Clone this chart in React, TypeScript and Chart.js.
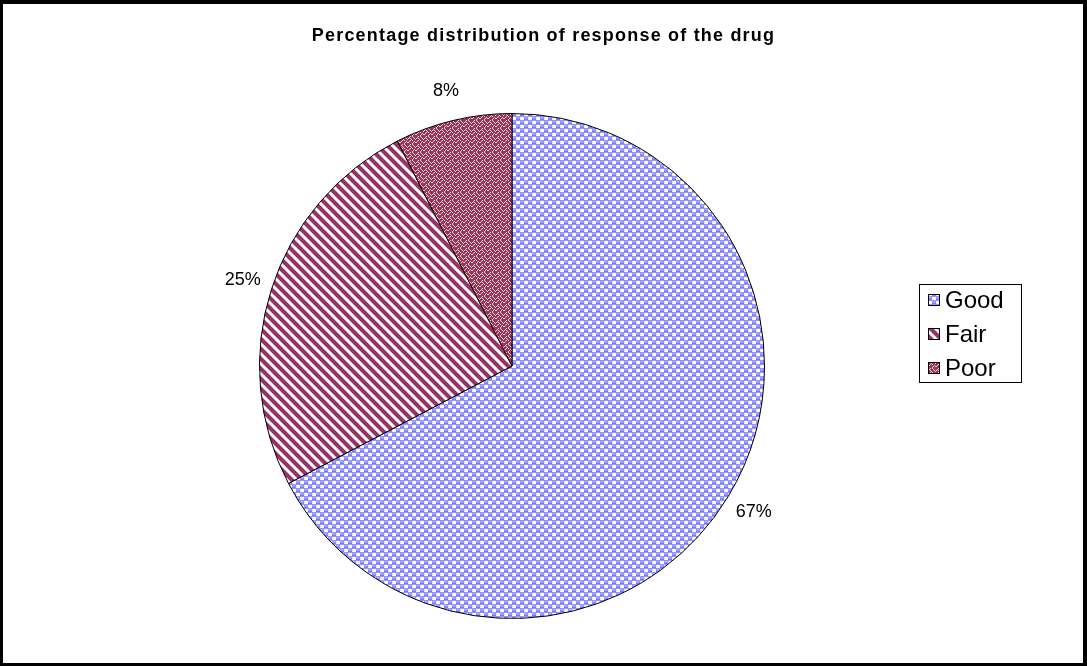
import React, { useEffect, useRef } from "react";
import { Chart, registerables } from "chart.js";

Chart.register(...registerables);

const categories = ["Good", "Fair", "Poor"];
const values = [67.3, 25.2, 7.5];
const titleText = "Percentage distribution of response of the drug";

function makeTile(size: number, draw: (ctx: CanvasRenderingContext2D) => void): CanvasPattern {
  const c = document.createElement("canvas");
  c.width = size;
  c.height = size;
  const ctx = c.getContext("2d")!;
  draw(ctx);
  return document.createElement("canvas").getContext("2d")!.createPattern(c, "repeat")!;
}

function goodPattern() {
  return makeTile(8, (ctx) => {
    ctx.fillStyle = "#9494ff";
    ctx.fillRect(0, 0, 8, 8);
    ctx.fillStyle = "#ffffff";
    ctx.fillRect(5, 1, 3, 3);
    ctx.fillRect(1, 5, 3, 3);
    ctx.fillStyle = "#e8e8ff";
    ctx.fillRect(4, 1, 1, 3);
    ctx.fillRect(0, 5, 1, 3);
    ctx.fillStyle = "#b4b4ff";
    ctx.fillRect(1, 1, 2, 1);
    ctx.fillRect(5, 5, 2, 1);
    ctx.fillStyle = "#7c7cf0";
    ctx.fillRect(0, 3, 4, 1);
    ctx.fillRect(4, 7, 4, 1);
  });
}

function fairPattern() {
  const n = 10;
  return makeTile(n, (ctx) => {
    ctx.fillStyle = "#ffffff";
    ctx.fillRect(0, 0, n, n);
    for (let y = 0; y < n; y++) {
      for (let x = 0; x < n; x++) {
        const d = (((x - y) % n) + n) % n;
        if (d < 5) {
          ctx.fillStyle = "#993366";
          ctx.fillRect(x, y, 1, 1);
        } else if (d === 5 || d === n - 1) {
          ctx.fillStyle = "#d7a9c0";
          ctx.fillRect(x, y, 1, 1);
        }
      }
    }
  });
}

function poorPattern() {
  const rows = [
    "MMLMLMMM",
    "MLMMMLMM",
    "LMLMMMLM",
    "MMMLMMML",
    "MMLMLMMM",
    "MLMMMMLM",
    "LMMMMLML",
    "MMMMLMMM",
  ];
  return makeTile(8, (ctx) => {
    for (let y = 0; y < 8; y++) {
      for (let x = 0; x < 8; x++) {
        ctx.fillStyle = rows[y][x] === "L" ? "#ecd4ac" : "#993366";
        ctx.fillRect(x, y, 1, 1);
      }
    }
  });
}

const labelPlugin = {
  id: "pctLabels",
  afterDatasetsDraw(chart: any) {
    const ctx = chart.ctx;
    const meta = chart.getDatasetMeta(0);
    const data = chart.data.datasets[0].data as number[];
    const total = data.reduce((a, b) => a + b, 0);
    ctx.save();
    ctx.font = "18px 'Liberation Sans', Arial, sans-serif";
    ctx.fillStyle = "#000";
    ctx.textAlign = "center";
    ctx.textBaseline = "middle";
    meta.data.forEach((arc: any, i: number) => {
      const p = arc.getProps(["startAngle", "endAngle", "outerRadius", "x", "y"], true);
      const mid = (p.startAngle + p.endAngle) / 2;
      const r = p.outerRadius + 30;
      const pct = Math.round((data[i] / total) * 100) + "%";
      ctx.fillText(pct, p.x + Math.cos(mid) * r, p.y + Math.sin(mid) * r);
    });
    ctx.restore();
  },
};

const titleLegendPlugin = {
  id: "titleLegend",
  afterDraw(chart: any) {
    const ctx = chart.ctx;
    ctx.save();
    ctx.font = "bold 18px 'Liberation Sans', Arial, sans-serif";
    (ctx as any).letterSpacing = "1.2px";
    ctx.fillStyle = "#000";
    ctx.textAlign = "center";
    ctx.textBaseline = "middle";
    ctx.fillText(titleText, chart.width / 2, 36);
    (ctx as any).letterSpacing = "0px";

    const bx = 919, by = 284, bw = 102, bh = 98;
    ctx.lineWidth = 1;
    ctx.strokeStyle = "#000";
    ctx.strokeRect(bx + 0.5, by + 0.5, bw, bh);
    const bg = chart.data.datasets[0].backgroundColor;
    ctx.font = "24px 'Liberation Sans', Arial, sans-serif";
    ctx.textAlign = "left";
    chart.data.labels.forEach((lab: string, i: number) => {
      const cy = 300 + i * 34;
      ctx.fillStyle = bg[i];
      ctx.fillRect(928, cy - 6, 12, 12);
      ctx.strokeRect(928.5, cy - 5.5, 11, 11);
      ctx.fillStyle = "#000";
      ctx.fillText(lab, 945, cy + 1);
    });
    ctx.restore();
  },
};

export default function App() {
  const ref = useRef<HTMLCanvasElement>(null);
  useEffect(() => {
    const chart = new Chart(ref.current!, {
      type: "pie",
      data: {
        labels: categories,
        datasets: [
          {
            data: values,
            backgroundColor: [goodPattern(), fairPattern(), poorPattern()] as any,
            borderColor: "#000",
            borderWidth: 1,
          },
        ],
      },
      options: {
        responsive: false,
        animation: false,
        layout: { padding: { left: 259, right: 322, top: 113, bottom: 47 } },
        plugins: {
          legend: { display: false },
          title: { display: false },
          tooltip: { enabled: false },
        },
      },
      plugins: [labelPlugin, titleLegendPlugin],
    });
    return () => chart.destroy();
  }, []);
  return (
    <div style={{ position: "fixed", left: 0, top: 0, width: 1087, height: 666, background: "#fff" }}>
      <canvas ref={ref} width={1087} height={666} style={{ position: "absolute", left: 0, top: 0 }} />
      <div
        style={{
          position: "absolute",
          left: 0,
          top: 0,
          width: 1087,
          height: 666,
          boxSizing: "border-box",
          borderStyle: "solid",
          borderColor: "#000",
          borderWidth: "4px 4px 3px 3px",
          pointerEvents: "none",
        }}
      />
    </div>
  );
}
